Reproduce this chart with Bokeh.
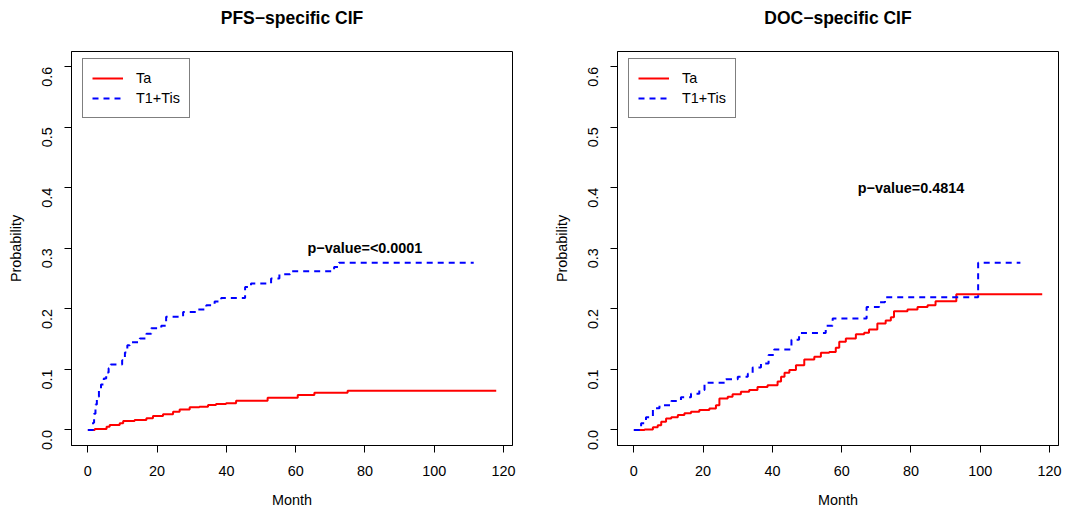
import math
from bokeh.plotting import figure
from bokeh.layouts import row
from bokeh.models import FixedTicker, PrintfTickFormatter, Range1d, Title
from bokeh.core.properties import value
from bokeh.embed import file_html
from bokeh.resources import INLINE

# ---------------- data ----------------
# PFS-specific CIF
pfs_ta_month = [0, 2.0, 5.4, 6.3, 9.2, 10.2, 13.5, 16.9, 18.8, 21.7, 24.6, 26.5, 29.4, 32.2,
                34.7, 37.0, 39.9, 42.8, 51.9, 60.6, 65.4, 75.0, 117.9]
pfs_ta_prob = [0, 0.0016, 0.0055, 0.0082, 0.011, 0.0148, 0.0165, 0.0192, 0.0231, 0.0258, 0.0302,
               0.034, 0.0374, 0.0385, 0.0412, 0.0429, 0.044, 0.0484, 0.0533, 0.0577, 0.0615,
               0.0648, 0.0648]
pfs_t1_month = [0, 1.5, 1.8, 2.2, 2.6, 3.2, 3.8, 4.6, 5.3, 6.0, 6.6, 9.9, 10.7, 11.4, 12.1, 15.0,
                16.9, 18.3, 21.2, 22.6, 27.5, 31.3, 34.2, 36.6, 38.5, 45.4, 47.1, 52.9, 55.3,
                58.4, 71.1, 72.5, 111.4]
pfs_t1_prob = [0, 0.012, 0.027, 0.042, 0.055, 0.066, 0.075, 0.085, 0.095, 0.102, 0.108, 0.115,
               0.128, 0.140, 0.145, 0.151, 0.159, 0.168, 0.172, 0.187, 0.195, 0.199, 0.206,
               0.212, 0.218, 0.236, 0.242, 0.250, 0.257, 0.262, 0.269, 0.276, 0.276]

# DOC-specific CIF
doc_ta_month = [0, 3.1, 5.5, 6.9, 7.9, 9.3, 10.8, 12.7, 14.6, 16.5, 18.9, 21.8, 23.7, 24.7, 27.1,
                28.5, 30.9, 33.3, 35.7, 38.6, 41.5, 42.5, 43.5, 44.9, 46.8, 49.2, 52.1, 54.0,
                56.4, 58.3, 59.3, 61.2, 64.1, 66.5, 67.9, 70.3, 72.7, 74.2, 75.1, 79.0, 81.9,
                84.8, 87.1, 93.1, 117.9]
doc_ta_prob = [0, 0.001, 0.0044, 0.008, 0.0137, 0.019, 0.021, 0.0247, 0.0275, 0.030, 0.033,
               0.0357, 0.041, 0.052, 0.055, 0.059, 0.063, 0.066, 0.071, 0.074, 0.080, 0.088,
               0.0946, 0.099, 0.107, 0.1165, 0.121, 0.1275, 0.129, 0.136, 0.1457, 0.151, 0.158,
               0.1605, 0.166, 0.176, 0.181, 0.186, 0.196, 0.199, 0.203, 0.206, 0.2127, 0.2243,
               0.2243]
doc_t1_month = [0, 2.1, 3.5, 5.5, 7.4, 10.8, 13.6, 16.5, 18.9, 20.4, 26.6, 30.0, 32.9, 34.3,
                36.7, 38.9, 40.5, 45.5, 47.7, 55.4, 57.4, 67.2, 70.8, 72.5, 99.4, 111.6]
doc_t1_prob = [0, 0.011, 0.021, 0.036, 0.041, 0.048, 0.054, 0.060, 0.066, 0.078, 0.084, 0.088,
               0.093, 0.103, 0.110, 0.124, 0.133, 0.149, 0.160, 0.172, 0.184, 0.203, 0.211,
               0.219, 0.276, 0.276]

group_labels = ["Ta", "T1+Tis"]
titles = ["PFS\u2212specific CIF", "DOC\u2212specific CIF"]
pvalue_texts = ["p\u2212value=<0.0001", "p\u2212value=0.4814"]
pvalue_pos = [(80, 0.3), (80, 0.4)]
x_ticks = [0, 20, 40, 60, 80, 100, 120]
y_ticks = [0.0, 0.1, 0.2, 0.3, 0.4, 0.5, 0.6]

FONT = "Liberation Sans"
X0, X1 = -4.72, 122.6


def make_panel(title, ta_m, ta_p, t1_m, t1_p, ptext, ppos, width, bl, br):
    p = figure(width=width, height=511, output_backend="svg", toolbar_location=None,
               x_range=Range1d(X0, X1), y_range=Range1d(-0.0256, 0.625),
               min_border_left=bl, min_border_right=br, min_border_top=51,
               min_border_bottom=66, background_fill_color="white",
               border_fill_color="white")
    p.xgrid.visible = False
    p.ygrid.visible = False
    p.outline_line_color = "black"
    p.outline_line_width = 1
    p.outline_line_alpha = 1

    # invisible spacer between frame and title, so the title sits higher
    p.add_layout(Title(text=" ", text_font_size="1px", standoff=19), "above")

    p.title.text = title
    p.title.align = "center"
    p.title.text_font = FONT
    p.title.text_font_size = "17.5px"
    p.title.text_font_style = "bold"
    p.title.text_color = "black"
    p.title.standoff = 4

    for ax in (p.xaxis[0], p.yaxis[0]):
        ax.major_tick_in = 0
        ax.major_tick_out = 7
        ax.minor_tick_line_color = None
        ax.axis_line_color = "black"
        ax.major_tick_line_color = "black"
        ax.major_label_text_font = FONT
        ax.major_label_text_font_size = "14.4px"
        ax.major_label_text_color = "black"
        ax.axis_label_text_font = FONT
        ax.axis_label_text_font_size = "14.4px"
        ax.axis_label_text_font_style = "normal"
        ax.axis_label_text_color = "black"
    p.xaxis.ticker = FixedTicker(ticks=x_ticks)
    p.yaxis.ticker = FixedTicker(ticks=y_ticks)
    p.yaxis.formatter = PrintfTickFormatter(format="%.1f")
    p.yaxis.major_label_orientation = math.pi / 2
    p.xaxis.major_label_standoff = 13
    p.yaxis.major_label_standoff = 17
    p.xaxis.axis_label_standoff = 13
    p.yaxis.axis_label_standoff = 11
    p.xaxis.axis_label = "Month"
    p.yaxis.axis_label = "Probability"

    p.step(ta_m, ta_p, mode="after", line_color="#FF0000", line_width=2,
           legend_label=group_labels[0])
    p.step(t1_m, t1_p, mode="after", line_color="#0000FF", line_width=2,
           line_dash="6 5", legend_label=group_labels[1])

    p.text(x=[ppos[0]], y=[ppos[1]], text=[ptext], text_font=value(FONT),
           text_font_style="bold", text_font_size="14.4px", text_align="center",
           text_baseline="middle", text_color="black")

    lg = p.legend[0]
    lg.location = (11, 327)
    lg.border_line_color = "black"
    lg.border_line_width = 1
    lg.background_fill_color = "white"
    lg.background_fill_alpha = 1
    lg.label_text_font = FONT
    lg.label_text_font_size = "14.4px"
    lg.label_text_color = "black"
    lg.padding = 9
    lg.spacing = 0
    lg.glyph_height = 20
    lg.label_height = 20
    lg.glyph_width = 31
    lg.label_standoff = 13
    lg.margin = 0
    return p


p1 = make_panel(titles[0], pfs_ta_month, pfs_ta_prob, pfs_t1_month, pfs_t1_prob,
                pvalue_texts[0], pvalue_pos[0], 533, 71, 21)
p2 = make_panel(titles[1], doc_ta_month, doc_ta_prob, doc_t1_month, doc_t1_prob,
                pvalue_texts[1], pvalue_pos[1], 534, 84, 9)

layout = row(p1, p2)
open("out.html", "w").write(file_html(layout, INLINE))
